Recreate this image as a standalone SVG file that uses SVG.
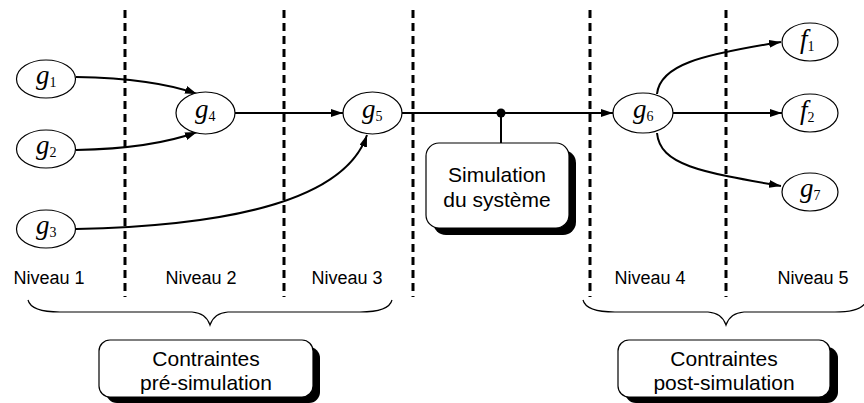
<svg xmlns="http://www.w3.org/2000/svg" width="864" height="403" viewBox="0 0 864 403">
<style>
.node{fill:#fff;stroke:#000;stroke-width:1.2}
.lbl{font-family:"Liberation Serif",serif;font-style:italic;font-size:27px;fill:#000}
.sub{font-style:normal;font-size:14px}
.dash{stroke:#000;stroke-width:3;stroke-dasharray:8,5;fill:none}
.edge{stroke:#000;stroke-width:2;fill:none}
.txt{font-family:"Liberation Sans",Arial,sans-serif;fill:#000}
.niv{font-size:18px;text-anchor:middle}
.box{font-size:21px;text-anchor:middle}
.brace{stroke:#000;stroke-width:1.2;fill:none}
</style>
<defs>
<marker id="arr" markerWidth="12" markerHeight="8" refX="12" refY="4" orient="auto" markerUnits="userSpaceOnUse">
<path d="M0,0 L12,4 L0,8 Z" fill="#000"/>
</marker>
</defs>
<rect width="864" height="403" fill="#fff"/>
<g id="levels">
<line class="dash" x1="125" y1="10" x2="125" y2="297"/>
<line class="dash" x1="284" y1="10" x2="284" y2="297"/>
<line class="dash" x1="413" y1="10" x2="413" y2="297"/>
<line class="dash" x1="590" y1="10" x2="590" y2="297"/>
<line class="dash" x1="726" y1="10" x2="726" y2="297"/>
</g>
<g id="connectors">
<path class="edge" d="M76,77 C130,78 170,84 197,94" marker-end="url(#arr)"/>
<path class="edge" d="M76,150 C130,149 170,142 197,132" marker-end="url(#arr)"/>
<path class="edge" d="M235,113 L343,113" marker-end="url(#arr)"/>
<path class="edge" d="M76,229 C230,226 345,200 367,135" marker-end="url(#arr)"/>
<path class="edge" d="M402,113 L613,113" marker-end="url(#arr)"/>
<path class="edge" d="M501,113 L501,143"/>
<circle cx="501" cy="113" r="4.5" fill="#000"/>
<path class="edge" d="M657,94 C660,65 700,55 781,42" marker-end="url(#arr)"/>
<path class="edge" d="M673,113 L782,113" marker-end="url(#arr)"/>
<path class="edge" d="M657,133 C660,165 700,172 781,186" marker-end="url(#arr)"/>
</g>
<g id="g1"><ellipse class="node" cx="46" cy="79" rx="29.5" ry="19"/><text class="lbl" x="36" y="84">g<tspan class="sub" dy="3">1</tspan></text></g>
<g id="g2"><ellipse class="node" cx="46" cy="149" rx="29.5" ry="19"/><text class="lbl" x="36" y="154">g<tspan class="sub" dy="3">2</tspan></text></g>
<g id="g3"><ellipse class="node" cx="46" cy="229" rx="29.5" ry="19"/><text class="lbl" x="36" y="234">g<tspan class="sub" dy="3">3</tspan></text></g>
<g id="g4"><ellipse class="node" cx="205.5" cy="113" rx="29.5" ry="21"/><text class="lbl" x="195" y="118">g<tspan class="sub" dy="3">4</tspan></text></g>
<g id="g5"><ellipse class="node" cx="372.5" cy="113" rx="29.5" ry="21"/><text class="lbl" x="362" y="118">g<tspan class="sub" dy="3">5</tspan></text></g>
<g id="g6"><ellipse class="node" cx="643" cy="113" rx="30" ry="20"/><text class="lbl" x="633" y="118">g<tspan class="sub" dy="3">6</tspan></text></g>
<g id="f1"><ellipse class="node" cx="810" cy="42" rx="28" ry="19"/><text class="lbl" x="800" y="48">f<tspan class="sub" dy="3">1</tspan></text></g>
<g id="f2"><ellipse class="node" cx="810" cy="113" rx="28" ry="19"/><text class="lbl" x="800" y="119">f<tspan class="sub" dy="3">2</tspan></text></g>
<g id="g7"><ellipse class="node" cx="810" cy="192" rx="28" ry="19"/><text class="lbl" x="800" y="197">g<tspan class="sub" dy="3">7</tspan></text></g>
<g id="sim">
<rect x="433" y="150" width="143" height="85" rx="13" fill="#000"/>
<rect x="426" y="143" width="143" height="85" rx="13" fill="#fff" stroke="#000" stroke-width="1.2"/>
<text class="txt box" x="497" y="182">Simulation</text>
<text class="txt box" x="497" y="207">du système</text>
</g>
<g id="niveaux">
<text class="txt niv" x="49" y="284">Niveau 1</text>
<text class="txt niv" x="201" y="284">Niveau 2</text>
<text class="txt niv" x="347" y="284">Niveau 3</text>
<text class="txt niv" x="650" y="284">Niveau 4</text>
<text class="txt niv" x="813" y="284">Niveau 5</text>
</g>
<g id="brace-pre">
<path class="brace" d="M28,300 Q31,312 60,312 L192,312 Q206,313 210,325 Q214,313 228,312 L360,312 Q389,312 392,300"/>
</g>
<g id="brace-post">
<path class="brace" d="M583,300 Q586,312 615,312 L708,312 Q722,313 726,325 Q730,313 744,312 L835,312 Q860,312 866,302"/>
</g>
<g id="pre">
<rect x="106" y="347" width="214" height="56" rx="11" fill="#000"/>
<rect x="99" y="340" width="214" height="57" rx="11" fill="#fff" stroke="#000" stroke-width="1.2"/>
<text class="txt box" x="206" y="366">Contraintes</text>
<text class="txt box" x="206" y="390">pré-simulation</text>
</g>
<g id="post">
<rect x="625" y="347" width="213" height="56" rx="11" fill="#000"/>
<rect x="618" y="340" width="212" height="57" rx="11" fill="#fff" stroke="#000" stroke-width="1.2"/>
<text class="txt box" x="724" y="366">Contraintes</text>
<text class="txt box" x="724" y="390">post-simulation</text>
</g>
</svg>
